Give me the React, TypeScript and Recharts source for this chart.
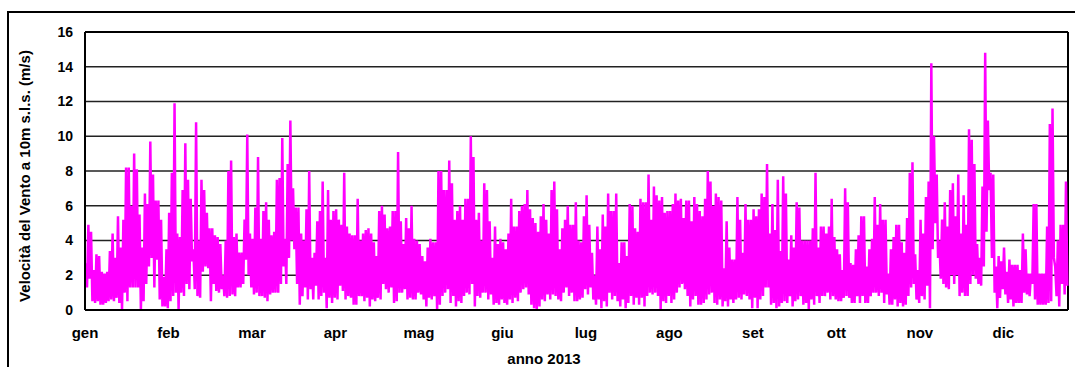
import React from 'react';
import { LineChart, Line, XAxis, YAxis, CartesianGrid, ReferenceLine, Label } from 'recharts';

// Etichette dei mesi sull'asse X (una ogni 31 giorni)
const mesi = ['gen', 'feb', 'mar', 'apr', 'mag', 'giu', 'lug', 'ago', 'set', 'ott', 'nov', 'dic'];
const giorniPerMese = [31, 28, 31, 30, 31, 30, 31, 31, 30, 31, 30, 31];
const yTicks = [0, 2, 4, 6, 8, 10, 12, 14, 16];

// Velocità del vento (m/s): per ogni giorno, massimo e minimo in sequenza
const gen = [2.7, 1.3, 4.9, 1.8, 4.5, 0.5, 2.3, 0.4, 3.2, 0.5, 3.1, 0.3, 2.2, 0.3, 2.1, 0.4, 2.2, 0.5, 3.4, 0.6, 4.4, 0.5, 3.0, 0.7, 5.4, 0.4, 3.6, 0.0, 5.2, 1.0, 8.2, 0.5, 8.2, 1.3, 6.0, 1.3, 9.0, 1.3, 8.1, 1.3, 5.5, 0.0, 3.6, 0.5, 6.7, 1.5, 6.1, 2.5, 9.7, 3.0, 7.8, 1.3, 6.3, 2.9, 6.3, 0.6, 5.2, 0.2, 1.9, 0.2, 3.5, 0.1];
const feb = [5.6, 0.5, 7.9, 0.8, 11.9, 1.0, 4.4, 0.0, 4.2, 1.0, 6.9, 0.8, 9.6, 1.5, 7.5, 1.2, 6.4, 2.8, 3.5, 1.2, 10.8, 0.8, 4.0, 0.7, 7.5, 2.2, 6.9, 2.5, 5.6, 2.4, 4.7, 0.5, 4.7, 1.5, 4.3, 1.1, 4.2, 1.0, 3.8, 1.2, 2.0, 0.8, 4.0, 0.7, 8.0, 0.8, 8.6, 0.9, 4.2, 0.8, 4.4, 1.3, 3.3, 1.3, 3.3, 1.5];
const mar = [5.2, 2.9, 10.1, 2.0, 4.4, 1.3, 4.1, 0.9, 5.9, 1.0, 8.8, 0.8, 4.1, 0.8, 5.7, 0.7, 6.2, 0.5, 5.2, 0.9, 4.3, 1.0, 4.5, 1.0, 7.5, 1.0, 7.6, 1.5, 9.9, 2.5, 4.1, 1.5, 8.4, 3.0, 10.9, 4.0, 7.0, 3.5, 5.9, 1.5, 5.9, 0.3, 4.4, 0.8, 4.0, 1.3, 5.8, 0.6, 8.0, 1.2, 3.0, 0.6, 3.3, 1.4, 5.1, 0.6, 5.7, 0.8, 7.4, 1.0, 3.0, 0.1];
const apr = [6.9, 0.7, 5.2, 0.4, 5.7, 0.7, 5.8, 0.6, 5.2, 1.4, 4.9, 1.1, 7.9, 0.6, 4.8, 0.8, 4.4, 0.7, 4.3, 0.3, 4.3, 0.3, 6.4, 0.8, 4.0, 0.8, 4.4, 0.5, 4.6, 0.7, 4.7, 0.2, 4.4, 0.6, 3.9, 0.5, 3.1, 0.7, 5.7, 0.6, 6.0, 1.5, 5.5, 1.2, 4.7, 1.0, 4.8, 1.3, 5.7, 0.4, 5.7, 0.5, 9.1, 1.0, 5.1, 1.0, 3.8, 1.2, 5.3, 0.6];
const mag = [4.7, 0.7, 6.0, 0.6, 4.1, 0.6, 4.0, 1.0, 3.8, 0.9, 3.1, 0.6, 2.8, 0.2, 3.6, 0.7, 4.1, 0.6, 3.9, 0.8, 3.9, 0.0, 8.0, 0.3, 8.0, 0.8, 6.9, 1.0, 6.9, 1.2, 8.6, 0.4, 7.3, 0.8, 5.2, 0.2, 5.7, 0.5, 6.0, 0.4, 5.2, 0.8, 6.4, 1.0, 6.4, 0.9, 10.0, 1.5, 8.8, 0.2, 5.2, 0.8, 5.6, 0.7, 4.0, 1.0, 7.3, 1.0, 6.9, 0.6, 5.1, 0.9];
const giu = [3.0, 0.3, 4.8, 0.4, 3.8, 0.3, 4.1, 0.6, 3.9, 0.4, 3.5, 0.3, 4.4, 0.6, 6.4, 0.4, 4.8, 0.7, 4.8, 0.5, 5.7, 1.0, 6.0, 1.2, 6.1, 1.3, 6.9, 0.9, 5.8, 0.3, 5.3, 0.1, 5.0, 0.0, 4.5, 0.2, 5.4, 0.6, 6.1, 0.5, 5.2, 0.9, 4.4, 0.6, 6.9, 0.9, 7.4, 0.8, 5.8, 0.6, 3.5, 0.5, 4.7, 1.0, 5.2, 1.3, 6.0, 0.8, 4.9, 1.0];
const lug = [4.9, 0.5, 6.2, 0.5, 4.0, 0.6, 3.9, 0.7, 5.4, 1.2, 6.6, 0.9, 4.9, 1.3, 3.3, 0.6, 2.0, 0.3, 4.8, 0.6, 3.5, 0.1, 5.5, 0.5, 4.8, 0.2, 6.7, 1.0, 5.7, 0.6, 5.7, 0.8, 6.7, 0.5, 2.7, 0.2, 3.9, 0.6, 3.9, 0.1, 3.1, 0.4, 6.1, 0.8, 6.0, 0.3, 4.7, 0.7, 4.5, 0.3, 6.4, 0.7, 6.2, 0.2, 6.2, 0.8, 7.8, 1.0, 5.2, 0.9, 7.1, 1.0];
const ago = [6.6, 0.8, 6.3, 0.0, 6.5, 0.5, 5.6, 0.4, 5.7, 0.8, 5.7, 0.4, 6.1, 0.6, 6.7, 1.0, 6.3, 1.3, 6.4, 1.5, 5.3, 1.2, 6.3, 0.8, 6.3, 0.2, 5.1, 0.6, 6.5, 0.8, 6.1, 0.3, 5.7, 0.3, 5.4, 0.4, 6.4, 0.6, 8.0, 0.9, 7.4, 1.0, 6.0, 0.4, 6.7, 0.3, 6.5, 0.6, 6.3, 0.2, 2.4, 0.5, 5.1, 0.2, 3.6, 0.6, 2.9, 0.4, 2.9, 0.6, 6.5, 0.7];
const set = [5.2, 0.6, 3.3, 0.9, 6.1, 0.8, 5.2, 0.6, 5.2, 0.1, 5.8, 0.7, 5.4, 0.1, 5.8, 0.6, 6.7, 0.8, 6.5, 1.3, 8.4, 1.3, 4.4, 0.3, 6.1, 0.4, 4.6, 0.1, 7.5, 0.2, 3.4, 0.4, 7.7, 0.5, 6.7, 0.4, 2.9, 0.8, 4.3, 0.2, 3.6, 0.5, 6.2, 0.6, 5.9, 0.8, 4.0, 0.3, 4.0, 0.4, 4.0, 0.0, 4.0, 0.6, 4.7, 0.3, 7.9, 0.8, 3.6, 0.4];
const ott = [4.8, 0.8, 4.8, 0.8, 4.4, 1.0, 4.8, 0.6, 6.4, 0.8, 4.2, 0.6, 3.5, 0.5, 3.2, 0.5, 2.3, 0.7, 7.0, 0.8, 6.2, 0.7, 2.7, 0.4, 2.6, 0.4, 3.5, 0.8, 4.3, 0.4, 5.4, 0.8, 5.4, 0.4, 2.5, 0.4, 3.5, 0.8, 4.1, 1.0, 6.5, 1.0, 4.9, 0.8, 6.1, 1.0, 5.2, 0.4, 5.2, 0.9, 2.1, 0.3, 3.5, 0.3, 4.2, 0.6, 4.9, 0.2, 4.9, 0.4, 3.9, 0.2];
const nov = [3.3, 0.3, 5.3, 0.8, 7.9, 1.3, 8.5, 1.5, 3.2, 0.6, 2.3, 0.4, 5.2, 0.8, 4.4, 0.6, 6.5, 1.4, 7.4, 0.1, 14.2, 3.5, 10.0, 5.0, 7.8, 3.0, 4.0, 1.8, 5.2, 1.5, 6.2, 1.3, 4.8, 1.2, 6.9, 2.0, 7.3, 1.5, 5.4, 2.0, 7.8, 0.8, 4.4, 1.0, 6.6, 0.8, 4.9, 0.8, 10.4, 1.5, 9.8, 2.0, 8.4, 1.8, 3.8, 1.5, 3.0, 1.4, 7.1, 2.5];
const dic = [14.8, 4.5, 10.9, 6.9, 7.9, 3.0, 7.8, 1.0, 2.5, 0.1, 3.1, 0.7, 2.8, 1.2, 3.6, 0.9, 2.2, 0.4, 2.9, 0.6, 2.6, 0.2, 2.6, 0.4, 2.6, 0.4, 2.3, 0.4, 4.4, 1.0, 3.5, 0.9, 2.1, 0.8, 2.1, 1.5, 6.1, 0.6, 6.1, 0.3, 2.1, 0.3, 2.1, 0.3, 2.1, 0.3, 4.8, 0.4, 10.7, 0.5, 11.6, 3.0, 2.5, 0.8, 4.0, 0.2, 4.9, 1.5, 4.9, 0.9, 7.4, 1.4];

const velocitaMensili = [gen, feb, mar, apr, mag, giu, lug, ago, set, ott, nov, dic];

const ORE_GIORNO = 24;
const ORE_ANNO = 365 * ORE_GIORNO;

// Serie oraria: massimo del giorno alle 6, minimo alle 18
const data: { ora: number; v: number }[] = [];
let giornoInizio = 0;
velocitaMensili.forEach((valori, m) => {
  valori.forEach((v, i) => {
    const giorno = giornoInizio + Math.floor(i / 2);
    data.push({ ora: giorno * ORE_GIORNO + (i % 2 === 0 ? 6 : 18), v });
  });
  giornoInizio += giorniPerMese[m];
});

const xTicks = mesi.map((_, i) => i * 31 * ORE_GIORNO);

const FONT = 'Arial, "Liberation Sans", sans-serif';

const TitoloY = () => (
  <text
    x={30}
    y={176}
    transform="rotate(-90, 30, 176)"
    textAnchor="middle"
    fill="#000"
    fontFamily={FONT}
    fontWeight="bold"
    fontSize={15}
  >
    Velocità del Vento a 10m s.l.s. (m/s)
  </text>
);

const TitoloX = () => (
  <text x={544} y={364} textAnchor="middle" fill="#000" fontFamily={FONT} fontWeight="bold" fontSize={15}>
    anno 2013
  </text>
);

export default function App() {
  return (
    <div style={{ position: 'relative', width: 1075, height: 367, overflow: 'hidden', background: '#fff' }}>
      <style>{'body{margin:0;overflow:hidden}'}</style>
      <div
        style={{
          position: 'absolute',
          left: 7,
          top: 11,
          width: 1120,
          height: 420,
          borderLeft: '2px solid #000',
          borderTop: '2px solid #000',
        }}
      />
      <LineChart width={1075} height={367} data={data} margin={{ top: 32, right: 7, bottom: 0, left: 0 }}>
        <CartesianGrid vertical={false} stroke="#222" strokeWidth={1.5} />
        <XAxis
          dataKey="ora"
          type="number"
          domain={[0, ORE_ANNO]}
          ticks={xTicks}
          interval={0}
          tickFormatter={(v: number) => mesi[Math.round(v / (31 * ORE_GIORNO))]}
          height={57}
          tickLine={false}
          tickSize={6}
          tickMargin={11}
          axisLine={{ stroke: '#000', strokeWidth: 2 }}
          tick={{ fill: '#000', fontFamily: FONT, fontWeight: 'bold', fontSize: 15 }}
        >
          <Label content={TitoloX} />
        </XAxis>
        <YAxis
          domain={[0, 16]}
          ticks={yTicks}
          interval={0}
          width={85}
          tickLine={false}
          tickSize={6}
          tickMargin={6}
          axisLine={{ stroke: '#000', strokeWidth: 2 }}
          tick={{ fill: '#000', fontFamily: FONT, fontWeight: 'bold', fontSize: 14 }}
        >
          <Label content={TitoloY} />
        </YAxis>
        <ReferenceLine y={16} stroke="#000" strokeWidth={2} />
        <ReferenceLine x={ORE_ANNO} stroke="#000" strokeWidth={2} />
        <Line
          dataKey="v"
          type="linear"
          stroke="#ff00ff"
          strokeWidth={2.5}
          dot={false}
          isAnimationActive={false}
        />
      </LineChart>
    </div>
  );
}
